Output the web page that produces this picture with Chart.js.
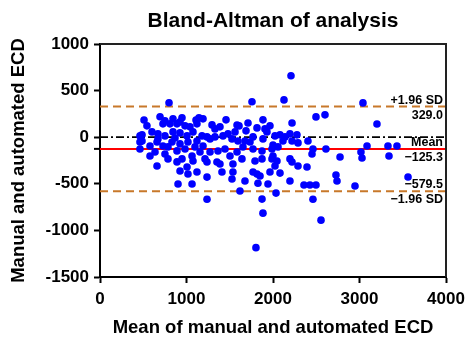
<!DOCTYPE html>
<html>
<head>
<meta charset="utf-8">
<script src="https://cdn.jsdelivr.net/npm/chart.js@4/dist/chart.umd.min.js"></script>
<style>
html,body{margin:0;padding:0;background:#fff;}
#wrap{width:465px;height:340px;}
</style>
</head>
<body>
<div id="wrap"><canvas id="c" width="465" height="340"></canvas></div>
<script>
// ---- data ----
const meanValues = [
  462,462,462,486,486,509,578,601,636,659,
  659,670,670,728,728,751,751,786,798,809,
  832,844,844,890,890,890,925,925,925,925,
  948,948,983,1006,1006,1017,1017,1064,1075,1075,
  1110,1121,1121,1121,1144,1156,1179,1191,1191,1214,
  1237,1237,1237,1237,1272,1295,1329,1329,1352,1364,
  1387,1422,1445,1457,1503,1526,1526,1537,1537,1584,
  1584,1595,1607,1618,1653,1676,1676,1711,1757,1769,
  1769,1769,1792,1803,1815,1815,1826,1850,1873,1873,
  1873,1884,1884,1884,1907,1930,1942,1965,1965,1988,
  1988,2000,2000,2023,2023,2035,2046,2058,2081,2081,
  2115,2127,2139,2196,2196,2196,2208,2220,2220,2220,
  2277,2289,2289,2358,2393,2404,2427,2451,2462,2462,
  2497,2497,2555,2601,2612,2728,2740,2775,2948,3017,
  3029,3040,3087,3202,3329,3341,3433,3561,
  543,694,751,867,983,1040,578,786,1098,1272,1387,1480,1561,1688,1734,1641,1410,902,1064
];
const diffValues = [
  14,-51,-126,25,-40,185,-94,57,-158,-51,
  -309,36,-18,143,-94,14,-180,-233,369,143,
  -51,197,57,-147,143,-265,164,46,-72,-362,
  208,-233,122,14,-320,-51,-395,-201,57,-255,
  185,143,-40,-373,207,-159,14,197,-94,-233,
  3,-266,-428,-665,-159,132,89,3,-266,-148,
  -287,14,-126,186,-201,-18,-449,-287,-373,131,
  -159,-40,121,-578,-105,-40,-470,153,380,3,
  -126,-373,-255,-1185,100,-395,-494,-416,-148,-233,
  -664,-18,186,-815,89,57,-502,122,-373,-126,
  -233,-83,-202,14,-309,-600,-256,-104,25,-385,
  -40,400,3,36,-233,-470,660,153,-40,-266,
  25,-61,-309,-513,-320,-40,-513,-180,-126,-665,
  218,-513,-890,240,-126,-406,-470,-213,-524,-158,
  -223,368,-94,142,-94,-201,-94,-427,
  122,219,175,-8,-126,111,-201,-104,-104,-18,111,36,57,68,-51,-233,-373,-502,-502
];
const biasMean = -125.3;
const upperLoA = 329.0;
const lowerLoA = -579.5;
const zeroLine = 0;
const xRange = [0, 4000];
const yRange = [-1500, 1000];
const xTicks = [0, 1000, 2000, 3000, 4000];
const yTicks = [-1500, -1000, -500, 0, 500, 1000];
const labelsText = {
  upperTop: '+1.96 SD', upperBottom: '329.0',
  meanTop: 'Mean', meanBottom: '\u2212125.3',
  lowerTop: '\u2212579.5', lowerBottom: '\u22121.96 SD'
};

const points = meanValues.map((m, i) => ({x: m, y: diffValues[i]}));
const hline = v => [{x: xRange[0], y: v}, {x: xRange[1], y: v}];

const FONT = "'Liberation Sans', Arial, Helvetica, sans-serif";
const ORANGE = '#c8782a';

const annot = {
  id: 'annot',
  afterDatasetsDraw(chart) {
    const {ctx, chartArea: a, scales: {y}} = chart;
    ctx.save();
    ctx.strokeStyle = '#222';
    ctx.lineWidth = 2;
    ctx.beginPath();
    ctx.moveTo(a.left, a.top);
    ctx.lineTo(a.right, a.top);
    ctx.lineTo(a.right, a.bottom);
    ctx.stroke();
    const ym = y.getPixelForValue(biasMean);
    ctx.strokeStyle = '#000';
    ctx.beginPath();
    ctx.moveTo(a.left - 6, ym);
    ctx.lineTo(a.left, ym);
    ctx.stroke();
    ctx.fillStyle = '#000';
    ctx.font = "bold 12.5px " + FONT;
    ctx.textAlign = 'right';
    const rx = a.right - 3;
    const pairs = [
      [upperLoA, labelsText.upperTop, labelsText.upperBottom],
      [biasMean, labelsText.meanTop, labelsText.meanBottom],
      [lowerLoA, labelsText.lowerTop, labelsText.lowerBottom]
    ];
    pairs.forEach(([v, top, bot]) => {
      const py = y.getPixelForValue(v);
      ctx.textBaseline = 'alphabetic';
      ctx.fillText(top, rx, py - 3);
      ctx.fillText(bot, rx, py + 12);
    });
    ctx.restore();
  }
};

new Chart(document.getElementById('c'), {
  type: 'scatter',
  data: {
    datasets: [
      {
        data: points,
        backgroundColor: '#0000ff',
        borderColor: '#0000ff',
        pointRadius: 3.8,
        pointHoverRadius: 3.8,
        borderWidth: 0,
        order: 0
      },
      {
        type: 'line', data: hline(zeroLine), borderColor: '#000', borderWidth: 1.8,
        borderDash: [8, 3, 2, 3], pointRadius: 0, fill: false, order: 2
      },
      {
        type: 'line', data: hline(biasMean), borderColor: '#ff0000', borderWidth: 2,
        pointRadius: 0, fill: false, order: 1
      },
      {
        type: 'line', data: hline(upperLoA), borderColor: ORANGE, borderWidth: 2,
        borderDash: [8, 5], pointRadius: 0, fill: false, order: 1
      },
      {
        type: 'line', data: hline(lowerLoA), borderColor: ORANGE, borderWidth: 2,
        borderDash: [8, 5], pointRadius: 0, fill: false, order: 1
      }
    ]
  },
  options: {
    responsive: false,
    animation: false,
    events: [],
    layout: {padding: {left: 0, right: 19, top: 0, bottom: 0}},
    plugins: {
      legend: {display: false},
      tooltip: {enabled: false},
      title: {
        display: true,
        text: 'Bland-Altman of analysis',
        fullSize: false,
        color: '#000',
        font: {family: FONT, size: 21, weight: 'bold'},
        padding: {top: 8.5, bottom: 10.3}
      }
    },
    scales: {
      x: {
        type: 'linear',
        min: xRange[0], max: xRange[1],
        afterBuildTicks: s => { s.ticks = xTicks.map(v => ({value: v})); },
        afterFit: s => { s.height = 63; s.paddingLeft = 0; s.paddingRight = 0; },
        grid: {display: true, drawOnChartArea: false, drawTicks: true, tickLength: 6, tickColor: '#000', tickWidth: 2},
        border: {display: true, color: '#000', width: 2},
        ticks: {color: '#000', font: {family: FONT, size: 17, weight: 'bold'}, padding: 6, maxRotation: 0,
                callback: v => String(v)},
        title: {display: true, text: 'Mean of manual and automated ECD', color: '#000',
                font: {family: FONT, size: 18.5, weight: 'bold'}, padding: {top: 0, bottom: 1}}
      },
      y: {
        type: 'linear',
        min: yRange[0], max: yRange[1],
        afterBuildTicks: s => { s.ticks = yTicks.map(v => ({value: v})); },
        afterFit: s => { s.width = 100; s.paddingTop = 0; s.paddingBottom = 0; },
        grid: {display: true, drawOnChartArea: false, drawTicks: true, tickLength: 6, tickColor: '#000', tickWidth: 2},
        border: {display: true, color: '#000', width: 2},
        ticks: {color: '#000', font: {family: FONT, size: 17, weight: 'bold'}, padding: 5,
                callback: v => String(v)},
        title: {display: true, text: 'Manual and automated ECD', color: '#000',
                font: {family: FONT, size: 18.5, weight: 'bold'}, padding: {top: 8, bottom: 0}}
      }
    }
  },
  plugins: [annot]
});
</script>
</body>
</html>
